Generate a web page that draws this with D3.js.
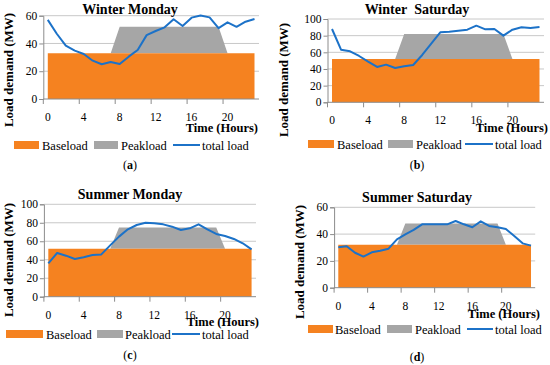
<!DOCTYPE html>
<html><head><meta charset="utf-8">
<script src="https://cdn.jsdelivr.net/npm/d3@7"></script>
<style>body{margin:0;background:#fff}svg{display:block}</style>
</head><body>
<svg id="c" width="550" height="365"></svg>
<script>
const FONT = "'Liberation Serif', 'DejaVu Serif', serif";
const hours = d3.range(0, 24);
const xTickLabels = ["0","4","8","12","16","20"];
const legendLabels = ["Baseload","Peakload","total load"];

const titles = ["Winter Monday","Winter\u00a0 Saturday","Summer Monday","Summer Saturday"];
const captions = ["a","b","c","d"];
const yMaxes = [60, 100, 100, 60];

const baseWinterMon = Array(24).fill(33);
const peakWinterMon = [0,0,0,0,0,0,0,0,19,19,19,19,19,19,19,19,19,19,19,19,0,0,0,0];
const totalWinterMon = [57,47,38.4,34.8,32.4,27.6,25,26.6,25.2,30.5,35.3,46,49,51.6,57.4,52.6,58.6,60.2,58.8,51,55.2,52,55.7,57.6];

const baseWinterSat = Array(24).fill(52);
const peakWinterSat = [0,0,0,0,0,0,0,0,30,30,30,30,30,30,30,30,30,30,30,30,0,0,0,0];
const totalWinterSat = [88,63.2,61.2,55.6,48.8,42.4,45.2,41.2,43.2,44.8,56.8,70.4,84,84.8,86,87.2,92,87.6,88,80,87.2,90,89.2,90.4];

const baseSummerMon = Array(24).fill(52);
const peakSummerMon = [0,0,0,0,0,0,0,0,23,23,23,23,23,23,23,23,23,23,23,23,0,0,0,0];
const totalSummerMon = [36.1,47.3,44.4,40.8,42.6,45.1,45.8,55.6,65,72.9,77.6,80.1,79.4,78.3,75.8,72.2,74,78.3,72.9,67.9,65.7,62.5,57.8,51.3];

const baseSummerSat = Array(24).fill(32);
const peakSummerSat = [0,0,0,0,0,0,0,0,16,16,16,16,16,16,16,16,16,16,16,16,0,0,0,0];
const totalSummerSat = [30.1,30.9,26.1,23.2,26.4,27.6,29.1,36.1,39.8,43.1,47.3,47.3,47.3,47.3,49.8,47.3,45.1,49.5,46.1,45.1,43.8,38.6,33.1,31.4];

const ORANGE = "#F58220", GRAY = "#A6A6A6", BLUE = "#1C72C8";

const layouts = [
  {x0:43.3, x1:259, yTop:15.7, yBot:99, titleX:130, titleY:14, yTitleX:9, yTitleY:70, timeX:258, timeY:132,
   legY:145, leg:[14,39,42, 94,118,121, 173,200,202], capX:130, capY:169},
  {x0:327.5, x1:544, yTop:19, yBot:102.3, titleX:417, titleY:14, yTitleX:284, yTitleY:80, timeX:548, timeY:132,
   legY:144, leg:[308,334,337, 388,413,416, 465,493,495], capX:417, capY:169},
  {x0:43.9, x1:256, yTop:204.3, yBot:296.7, titleX:130, titleY:199, yTitleX:9, yTitleY:260, timeX:259, timeY:326,
   legY:334, leg:[6,43,46, 97,123,125, 172,200,202], capX:130, capY:359},
  {x0:334.1, x1:535.2, yTop:207.3, yBot:287.7, titleX:417, titleY:202, yTitleX:300, yTitleY:262, timeX:540, timeY:318,
   legY:329, leg:[308,333,335, 387,412,415, 467,493,495], capX:417, capY:361}
];
const bases = [baseWinterMon, baseWinterSat, baseSummerMon, baseSummerSat];
const peaks = [peakWinterMon, peakWinterSat, peakSummerMon, peakSummerSat];
const totals = [totalWinterMon, totalWinterSat, totalSummerMon, totalSummerSat];

const svg = d3.select("#c");

layouts.forEach((L, k) => {
  const g = svg.append("g").attr("font-family", FONT);
  const x = d3.scaleBand().domain(hours).range([L.x0, L.x1]);
  const cx = h => x(h) + x.bandwidth()/2;
  const y = d3.scaleLinear().domain([0, yMaxes[k]]).range([L.yBot, L.yTop]);
  const yTicks = d3.range(0, yMaxes[k] + 1, 20);

  g.selectAll(".grid").data(yTicks.filter(t => t > 0)).join("line")
    .attr("x1", L.x0).attr("x2", L.x1).attr("y1", d => y(d)).attr("y2", d => y(d))
    .attr("stroke", "#C8C8C8").attr("stroke-width", 1);

  const data = hours.map(h => ({h, b: bases[k][h], p: peaks[k][h]}));
  const stack = d3.stack().keys(["b","p"])(data);
  const area = d3.area().x(d => cx(d.data.h)).y0(d => y(d[0])).y1(d => y(d[1]));
  g.append("path").datum(stack[1]).attr("d", area).attr("fill", GRAY);
  g.append("path").datum(stack[0]).attr("d", area).attr("fill", ORANGE);

  const line = d3.line().x((d, i) => cx(i)).y(d => y(d));
  g.append("path").datum(totals[k]).attr("d", line).attr("fill", "none")
    .attr("stroke", BLUE).attr("stroke-width", 2).attr("stroke-linejoin", "round");

  const yAxis = d3.axisLeft(y).tickValues(yTicks).tickSize(4).tickPadding(2);
  const ya = g.append("g").attr("transform", `translate(${L.x0},0)`).call(yAxis).attr("font-family", FONT);
  ya.select(".domain").attr("stroke", "#8C8C8C");
  ya.selectAll(".tick line").attr("stroke", "#8C8C8C");
  ya.selectAll(".tick text").attr("font-size", 11.5).attr("font-family", FONT).attr("fill", "#000");

  const xa = g.append("g").attr("transform", `translate(0,${L.yBot})`);
  xa.append("line").attr("x1", L.x0).attr("x2", L.x1).attr("stroke", "#8C8C8C");
  const tickIdx = xTickLabels.map(Number);
  xa.selectAll(".xt").data(tickIdx).join("line")
    .attr("x1", d => x(d)).attr("x2", d => x(d)).attr("y1", 0).attr("y2", 5).attr("stroke", "#8C8C8C");
  xa.selectAll(".xl").data(xTickLabels).join("text")
    .attr("x", d => cx(+d)).attr("y", 22).attr("text-anchor", "middle").attr("font-size", 11.5).text(d => d);

  g.append("text").attr("x", L.titleX).attr("y", L.titleY).attr("text-anchor", "middle")
    .attr("font-size", 14).attr("font-weight", "bold").text(titles[k]);
  g.append("text").attr("transform", `translate(${L.yTitleX + 4},${L.yTitleY}) rotate(-90)`)
    .attr("text-anchor", "middle").attr("font-size", 13).attr("font-weight", "bold").text("Load demand (MW)");
  g.append("text").attr("x", L.timeX).attr("y", L.timeY).attr("text-anchor", "end")
    .attr("font-size", 12.5).attr("font-weight", "bold").text("Time (Hours)");

  const lg = L.leg;
  g.append("rect").attr("x", lg[0]).attr("y", L.legY - 4).attr("width", lg[1]-lg[0]).attr("height", 8).attr("fill", ORANGE);
  g.append("rect").attr("x", lg[3]).attr("y", L.legY - 4).attr("width", lg[4]-lg[3]).attr("height", 8).attr("fill", GRAY);
  g.append("line").attr("x1", lg[6]).attr("x2", lg[7]).attr("y1", L.legY).attr("y2", L.legY).attr("stroke", BLUE).attr("stroke-width", 2);
  [lg[2], lg[5], lg[8]].forEach((tx, i) => {
    g.append("text").attr("x", tx).attr("y", L.legY + 4.5).attr("font-size", 12.5).text(legendLabels[i]);
  });

  const cap = g.append("text").attr("x", L.capX).attr("y", L.capY).attr("text-anchor", "middle").attr("font-size", 12);
  cap.append("tspan").text("(");
  cap.append("tspan").attr("font-weight", "bold").text(captions[k]);
  cap.append("tspan").text(")");
});
</script>
</body></html>
